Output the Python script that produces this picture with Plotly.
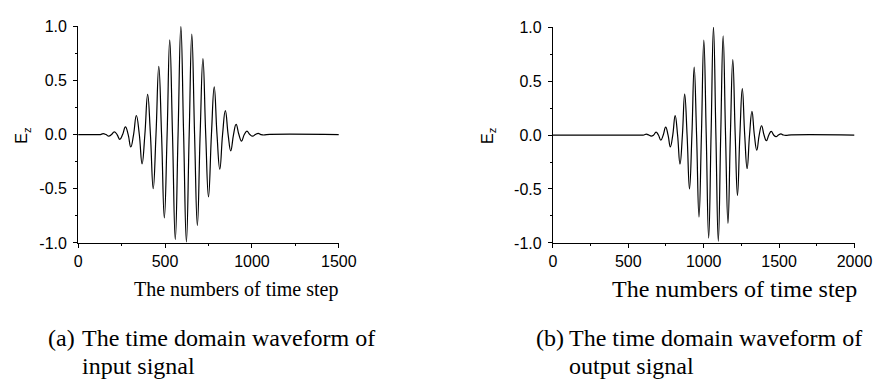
import plotly.graph_objects as go

# ---- data (extrema and zero crossings of the waveforms) ----
t_in = [0, 112, 128, 144, 160, 176, 192, 208, 224, 240, 256, 272, 288,
        303, 319, 335, 352, 368, 384, 400, 416, 432, 448, 464, 480, 496, 512,
        527, 543, 559, 575, 591, 607, 623, 639, 654, 670, 686, 702, 718, 734, 750,
        767, 783, 799, 815, 831, 847, 863, 878, 894, 909, 925, 940, 956, 971,
        988, 1004, 1020, 1036, 1052, 1068, 1084, 1500]
ez_in = [0, 0, 0, 0.008, 0, -0.015, 0, 0.025, 0, -0.045, 0, 0.07, 0,
         -0.115, 0, 0.176, 0, -0.27, 0, 0.37, 0, -0.50, 0, 0.63, 0, -0.77, 0,
         0.874, 0, -0.97, 0, 1.0, 0, -0.99, 0, 0.927, 0, -0.84, 0, 0.70, 0, -0.575,
         0, 0.44, 0, -0.32, 0, 0.22, 0, -0.15, 0, 0.094, 0, -0.06, 0, 0.032,
         0, -0.015, 0, 0.01, 0, -0.004, 0, 0]

t_out = [0, 588, 604, 620, 636, 652, 668, 684, 700, 716, 732, 748, 764,
         779, 795, 811, 827, 843, 859, 874, 890, 906, 922, 937, 953, 969, 985,
         1001, 1017, 1033, 1049, 1065, 1081, 1097, 1113, 1129, 1145, 1161, 1177, 1193, 1209, 1224,
         1240, 1256, 1272, 1288, 1304, 1320, 1336, 1352, 1368, 1384, 1400, 1416, 1432, 1448,
         1464, 1480, 1496, 1512, 1528, 1544, 1560, 2000]
ez_out = [0, 0, 0, 0.008, 0, -0.01, 0, 0.027, 0, -0.047, 0, 0.074, 0,
          -0.11, 0, 0.18, 0, -0.27, 0, 0.38, 0, -0.50, 0, 0.63, 0, -0.76, 0,
          0.88, 0, -0.956, 0, 1.0, 0, -0.985, 0, 0.92, 0, -0.82, 0, 0.70, 0, -0.56,
          0, 0.43, 0, -0.31, 0, 0.22, 0, -0.14, 0, 0.086, 0, -0.053, 0, 0.033,
          0, -0.015, 0, 0.01, 0, -0.004, 0, 0]

x_ticks_in = [0, 500, 1000, 1500]
x_ticks_out = [0, 500, 1000, 1500, 2000]
y_ticks = [-1.0, -0.5, 0.0, 0.5, 1.0]
y_tick_labels = ["-1.0", "-0.5", "0.0", "0.5", "1.0"]

x_title = "The numbers of time step"
y_title = "E<sub>z</sub>"
cap_a = ["(a)", "The time domain waveform of", "input signal"]
cap_b = ["(b)", "The time domain waveform of", "output signal"]

assert len(t_in) == len(ez_in) and len(t_out) == len(ez_out)

W, H = 893, 388
def px(x):
    return x / W
def py(y):
    return 1 - y / H

fig = go.Figure()
line = dict(color="black", width=1.2, shape="spline", smoothing=1.3)
fig.add_trace(go.Scatter(x=t_in, y=ez_in, mode="lines", line=line,
                         xaxis="x", yaxis="y", showlegend=False, hoverinfo="skip"))
fig.add_trace(go.Scatter(x=t_out, y=ez_out, mode="lines", line=line,
                         xaxis="x2", yaxis="y2", showlegend=False, hoverinfo="skip"))

tickfont = dict(family="Liberation Sans, Arial", size=16, color="black")
common_x = dict(showgrid=False, zeroline=False, showline=True, linecolor="black",
                linewidth=1, ticks="outside", ticklen=4, tickwidth=1, tickcolor="black",
                tickfont=tickfont, dtick=500, tick0=0,
                minor=dict(ticks="outside", ticklen=2, tickcolor="black", dtick=250, showgrid=False))
common_y = dict(showgrid=False, zeroline=False, showline=True, linecolor="black",
                linewidth=1, ticks="outside", ticklen=4, tickwidth=1, tickcolor="black",
                tickfont=tickfont, range=[-1, 1], tickvals=y_ticks, ticktext=y_tick_labels,
                ticklabelstandoff=3,
                minor=dict(ticks="outside", ticklen=2, tickcolor="black", dtick=0.25, tick0=0, showgrid=False))

fig.update_layout(
    width=W, height=H, margin=dict(l=0, r=0, t=0, b=0),
    paper_bgcolor="white", plot_bgcolor="white",
    xaxis=dict(common_x, domain=[px(76), px(343.3)], range=[0, 1500], anchor="y",
               tickvals=x_ticks_in),
    yaxis=dict(common_y, domain=[py(245.7), py(19)], anchor="x"),
    xaxis2=dict(common_x, domain=[px(562.7), px(872)], range=[0, 2000], anchor="y2",
                tickvals=x_ticks_out),
    yaxis2=dict(common_y, domain=[py(245.7), py(20)], anchor="x2"),
)

serif = "Liberation Serif, Times New Roman, serif"
ann = []
# y-axis titles
ann.append(dict(x=px(19), y=py(133), text=y_title, textangle=-90, showarrow=False,
                xref="paper", yref="paper", xanchor="center", yanchor="middle",
                font=dict(family="Liberation Sans, Arial", size=16, color="black")))
ann.append(dict(x=px(496), y=py(133), text=y_title, textangle=-90, showarrow=False,
                xref="paper", yref="paper", xanchor="center", yanchor="middle",
                font=dict(family="Liberation Sans, Arial", size=16, color="black")))
# x-axis titles
ann.append(dict(x=px(237.5), y=py(294), text=x_title, showarrow=False,
                xref="paper", yref="paper", xanchor="center", yanchor="middle",
                font=dict(family=serif, size=20, color="black")))
ann.append(dict(x=px(749), y=py(294), text=x_title, showarrow=False,
                xref="paper", yref="paper", xanchor="center", yanchor="middle",
                font=dict(family=serif, size=24, color="black")))
# captions
for (x_lab, x_txt, cap) in [(42.7, 78, cap_a), (543, 577, cap_b)]:
    ann.append(dict(x=px(x_lab), y=py(345), text=cap[0], showarrow=False,
                    xref="paper", yref="paper", xanchor="left", yanchor="middle",
                    font=dict(family=serif, size=24, color="black")))
    ann.append(dict(x=px(x_txt), y=py(345), text=cap[1], showarrow=False,
                    xref="paper", yref="paper", xanchor="left", yanchor="middle",
                    font=dict(family=serif, size=24, color="black")))
    ann.append(dict(x=px(x_txt), y=py(374), text=cap[2], showarrow=False,
                    xref="paper", yref="paper", xanchor="left", yanchor="middle",
                    font=dict(family=serif, size=24, color="black")))
fig.update_layout(annotations=ann)

fig.write_html("out.html")
